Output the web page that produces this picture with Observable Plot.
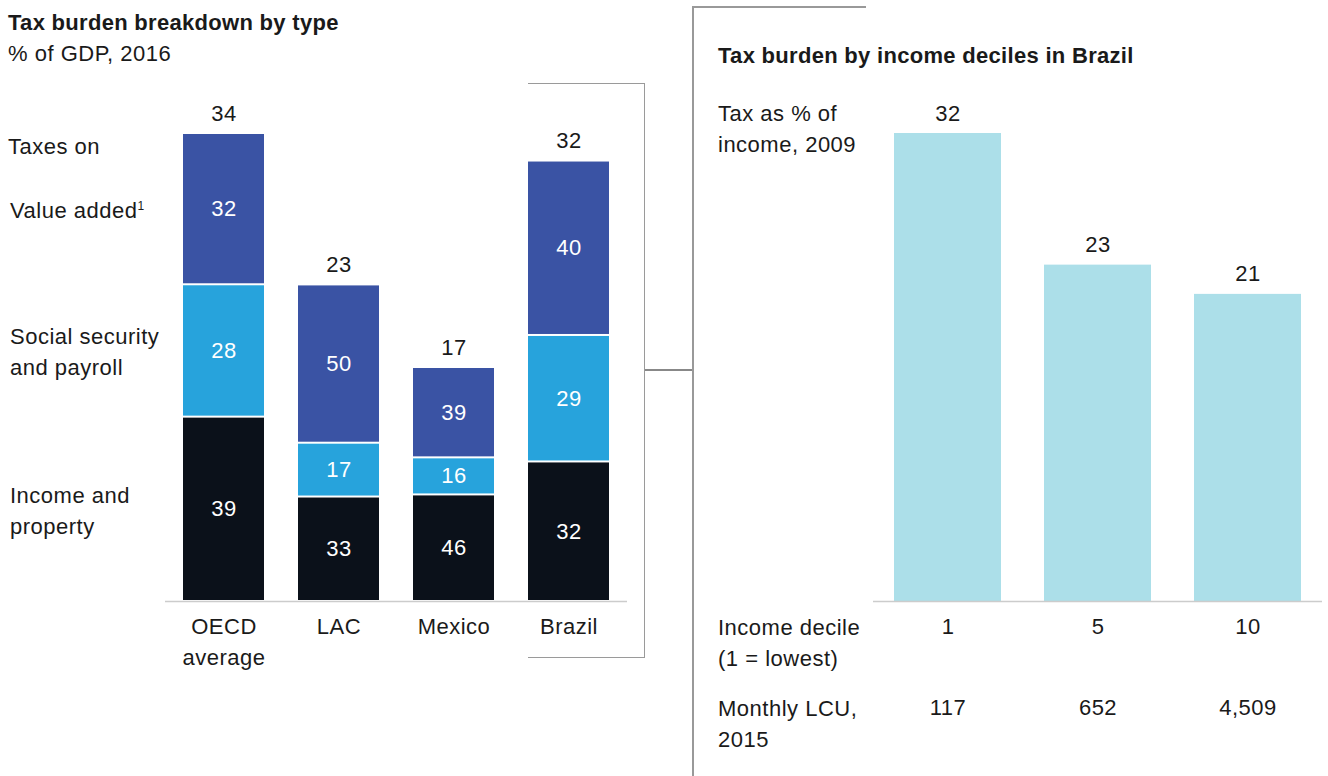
<!DOCTYPE html>
<html><head><meta charset="utf-8">
<script src="https://cdn.jsdelivr.net/npm/d3@7"></script>
<script src="https://cdn.jsdelivr.net/npm/@observablehq/plot@0.6"></script>
<style>
body{margin:0;background:#fff;font-family:"Liberation Sans", Arial, sans-serif;color:#1a1a1a}
#root{position:relative;width:1328px;height:776px;overflow:hidden;background:#fff}
.t{position:absolute;font-size:22px;line-height:31px;white-space:nowrap;color:#1a1a1a;letter-spacing:0.5px}
.b{font-weight:bold;font-size:22px;letter-spacing:0.3px}
.t sup{font-size:12px;vertical-align:top;line-height:22px}
.ln{position:absolute;background:#999}
#left,#right{position:absolute;top:0}
#left{left:0}
#right{left:700px}
</style></head><body><div id="root">
<div id="left"></div>
<div id="right"></div>
<div class="t b" style="left:8px;top:7px">Tax burden breakdown by type</div>
<div class="t" style="left:8px;top:38px">% of GDP, 2016</div>
<div class="t" style="left:8px;top:131px">Taxes on</div>
<div class="t" style="left:10px;top:195px">Value added<sup>1</sup></div>
<div class="t" style="left:10px;top:321px">Social security<br>and payroll</div>
<div class="t" style="left:10px;top:480px">Income and<br>property</div>
<div class="t b" style="left:718px;top:40px">Tax burden by income deciles in Brazil</div>
<div class="t" style="left:718px;top:98px">Tax as % of<br>income, 2009</div>
<div class="t" style="left:718px;top:612px">Income decile<br>(1 = lowest)</div>
<div class="t" style="left:718px;top:693px">Monthly LCU,<br>2015</div>
<div style="position:absolute;left:528px;top:82.5px;width:116px;height:573px;border:1.5px solid #9a9a9a;border-left:none"></div>
<div class="ln" style="left:645px;top:369px;width:48px;height:1.5px;background:#888"></div>
<div class="ln" style="left:692px;top:6px;width:1.5px;height:770px"></div>
<div class="ln" style="left:692px;top:6px;width:174px;height:1.5px"></div>
</div>
<script>
const countries = ["OECD average", "LAC", "Mexico", "Brazil"];
const totals = [34, 23, 17, 32];
const taxTypes = ["Income and property", "Social security and payroll", "Value added"];
const incomeShare = [39, 33, 46, 32];
const socialShare = [28, 17, 16, 29];
const vatShare = [32, 50, 39, 40];
const typeColors = ["#0b111a", "#27a3dc", "#3a53a4"];

const deciles = ["1", "5", "10"];
const taxPct = [32, 23, 21];
const monthlyLCU = ["117", "652", "4,509"];

const shares = [incomeShare, socialShare, vatShare];
const rows = [];
countries.forEach((c, i) => {
  const sum = shares.reduce((s, a) => s + a[i], 0);
  taxTypes.forEach((t, j) => {
    rows.push({country: c, type: t, share: shares[j][i], value: totals[i] * shares[j][i] / sum});
  });
});
const totalRows = countries.map((c, i) => ({country: c, total: totals[i]}));
const decRows = deciles.map((d, i) => ({decile: d, tax: taxPct[i], lcu: monthlyLCU[i]}));

const font = {fontFamily: "Liberation Sans, Arial, sans-serif", fontSize: "22px", letterSpacing: "0.5px", color: "#1a1a1a", background: "transparent", maxWidth: "none", overflow: "visible"};

const left = Plot.plot({
  width: 660, height: 776,
  marginLeft: 147, marginRight: 15, marginTop: 133, marginBottom: 175,
  style: font,
  x: {domain: countries, padding: 0.3, label: null},
  y: {domain: [0, 34], axis: null},
  color: {domain: taxTypes, range: typeColors},
  marks: [
    Plot.barY(rows, {x: "country", y: "value", fill: "type", insetTop: 1, insetBottom: 1}),
    Plot.text(rows, Plot.stackY({x: "country", y: "value", text: "share", fill: "white", fontSize: 22})),
    Plot.text(totalRows, {x: "country", y: "total", text: "total", lineAnchor: "bottom", dy: -13, fontSize: 22, fill: "#1a1a1a"}),
    Plot.ruleY([0], {stroke: "#cccccc", strokeWidth: 1.5, insetLeft: 18, insetRight: 18}),
    Plot.axisX({tickSize: 0, tickPadding: 10, fontSize: 22, lineHeight: 1.41, fill: "#1a1a1a", label: null,
      tickFormat: d => d === "OECD average" ? "OECD\naverage" : d})
  ]
});
document.getElementById("left").appendChild(left);

const right = Plot.plot({
  width: 628, height: 776,
  marginLeft: 173, marginRight: 6, marginTop: 133, marginBottom: 175,
  style: font,
  x: {domain: deciles, paddingInner: 0.287, paddingOuter: 0.14, label: null},
  y: {domain: [0, 32], axis: null},
  marks: [
    Plot.barY(decRows, {x: "decile", y: "tax", fill: "#acdfe9"}),
    Plot.text(decRows, {x: "decile", y: "tax", text: "tax", lineAnchor: "bottom", dy: -13, fontSize: 22, fill: "#1a1a1a"}),
    Plot.ruleY([0], {stroke: "#cccccc", strokeWidth: 1.5}),
    Plot.axisX({tickSize: 0, tickPadding: 17, fontSize: 22, fill: "#1a1a1a", label: null}),
    Plot.text(decRows, {x: "decile", text: "lcu", frameAnchor: "bottom", dy: 113, fontSize: 22, fill: "#1a1a1a"})
  ]
});
document.getElementById("right").appendChild(right);
</script>
</body></html>
